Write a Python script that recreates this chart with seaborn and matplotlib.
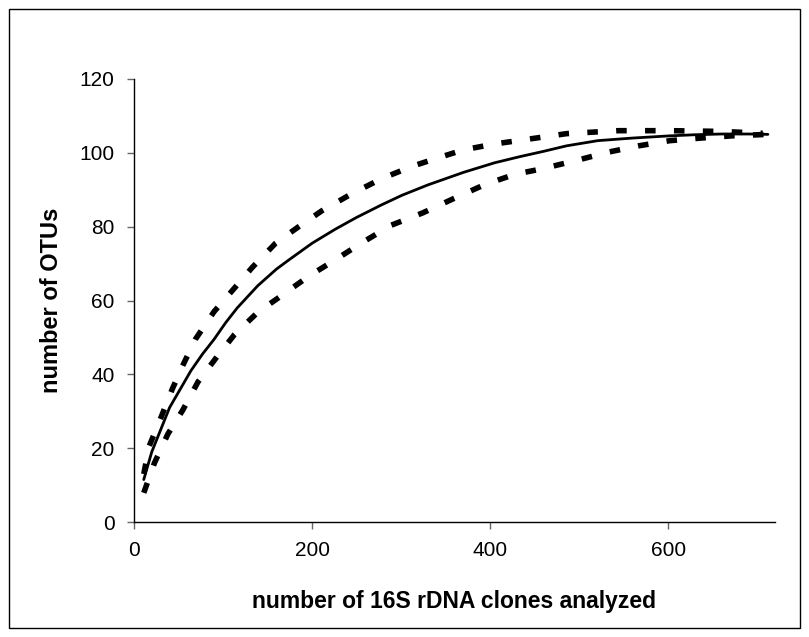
import matplotlib
matplotlib.use("Agg")
import matplotlib.pyplot as plt
import seaborn as sns
from matplotlib.patches import Rectangle

# Observed rarefaction curve
obs_x = [11, 20, 30, 40, 52, 64, 77, 90, 103, 116, 139, 160, 174, 200, 226, 250, 278, 301, 330, 370, 405, 434, 460, 486, 521, 560, 602, 630, 660, 690, 712]
obs_y = [11.5, 19, 25, 31, 36, 41, 45.5, 49.5, 54, 58, 64, 68.5, 71, 75.5, 79.3, 82.5, 85.9, 88.5, 91.3, 94.7, 97.3, 99, 100.4, 101.9, 103.3, 104, 104.6, 104.9, 105.1, 105.1, 105]

# Upper 95% confidence
up_x = [11, 17, 29, 43, 56, 69, 90, 113, 133, 159, 185, 211, 243, 278, 313, 341, 370, 405, 440, 486, 544, 602, 660, 706]
up_y = [13, 20.5, 27.5, 36, 43, 49.5, 57, 63.4, 69, 75.5, 80, 84.3, 88.7, 93, 96.4, 98.6, 100.8, 102.4, 103.6, 105.2, 106, 106, 105.8, 105.3]

# Lower 95% confidence
lo_x = [11, 23, 38, 55, 72, 93, 113, 139, 165, 197, 226, 255, 289, 324, 359, 394, 428, 457, 498, 533, 567, 602, 637, 672, 712]
lo_y = [7.9, 16, 23.8, 30.4, 38, 44.7, 50.8, 56.8, 61.2, 66.7, 71, 75.5, 80.4, 83.7, 87.6, 91.4, 94.2, 95.6, 98, 100.2, 101.9, 103.3, 104, 104.6, 105]

x_ticks = [0, 200, 400, 600]
y_ticks = [0, 20, 40, 60, 80, 100, 120]

sns.set_theme(style="white")
plt.rcParams['font.family'] = ['Liberation Sans', 'DejaVu Sans']
plt.rcParams['text.color'] = 'black'
plt.rcParams['axes.labelcolor'] = 'black'
plt.rcParams['xtick.color'] = 'black'
plt.rcParams['ytick.color'] = 'black'

fig = plt.figure(figsize=(8.09, 6.37), dpi=100)
ax = fig.add_axes([0.1656, 0.1805, 0.7924, 0.6955])

dash = (0, (1.9, 3.3))
sns.lineplot(x=obs_x, y=obs_y, ax=ax, color="black", linewidth=2.0, estimator=None, sort=False)
sns.lineplot(x=up_x, y=up_y, ax=ax, color="black", linewidth=4.0, estimator=None, sort=False,
             linestyle=dash)
sns.lineplot(x=lo_x, y=lo_y, ax=ax, color="black", linewidth=4.0, estimator=None, sort=False,
             linestyle=dash)

ax.set_xlim(0, 720)
ax.set_ylim(0, 120)
ax.set_xticks(x_ticks)
ax.set_yticks(y_ticks)
ax.tick_params(axis="both", which="major", direction="out", length=5, width=1,
               color="#666666", labelcolor="black", labelsize=15, pad=9, bottom=True, left=True)
for s in ["top", "right"]:
    ax.spines[s].set_visible(False)
for s in ["left", "bottom"]:
    ax.spines[s].set_color("black")
    ax.spines[s].set_linewidth(1.0)

ax.set_xlabel("number of 16S rDNA clones analyzed", fontsize=16.5, fontweight="bold",
              labelpad=21, color="black")
ax.set_ylabel("number of OTUs", fontsize=17, fontweight="bold", labelpad=12, color="black")

fig.add_artist(Rectangle((9/809, 9/637), 791/809, 619/637, transform=fig.transFigure,
                         fill=False, edgecolor="black", linewidth=1.0))

fig.savefig("out.png", dpi=100, facecolor="white")
